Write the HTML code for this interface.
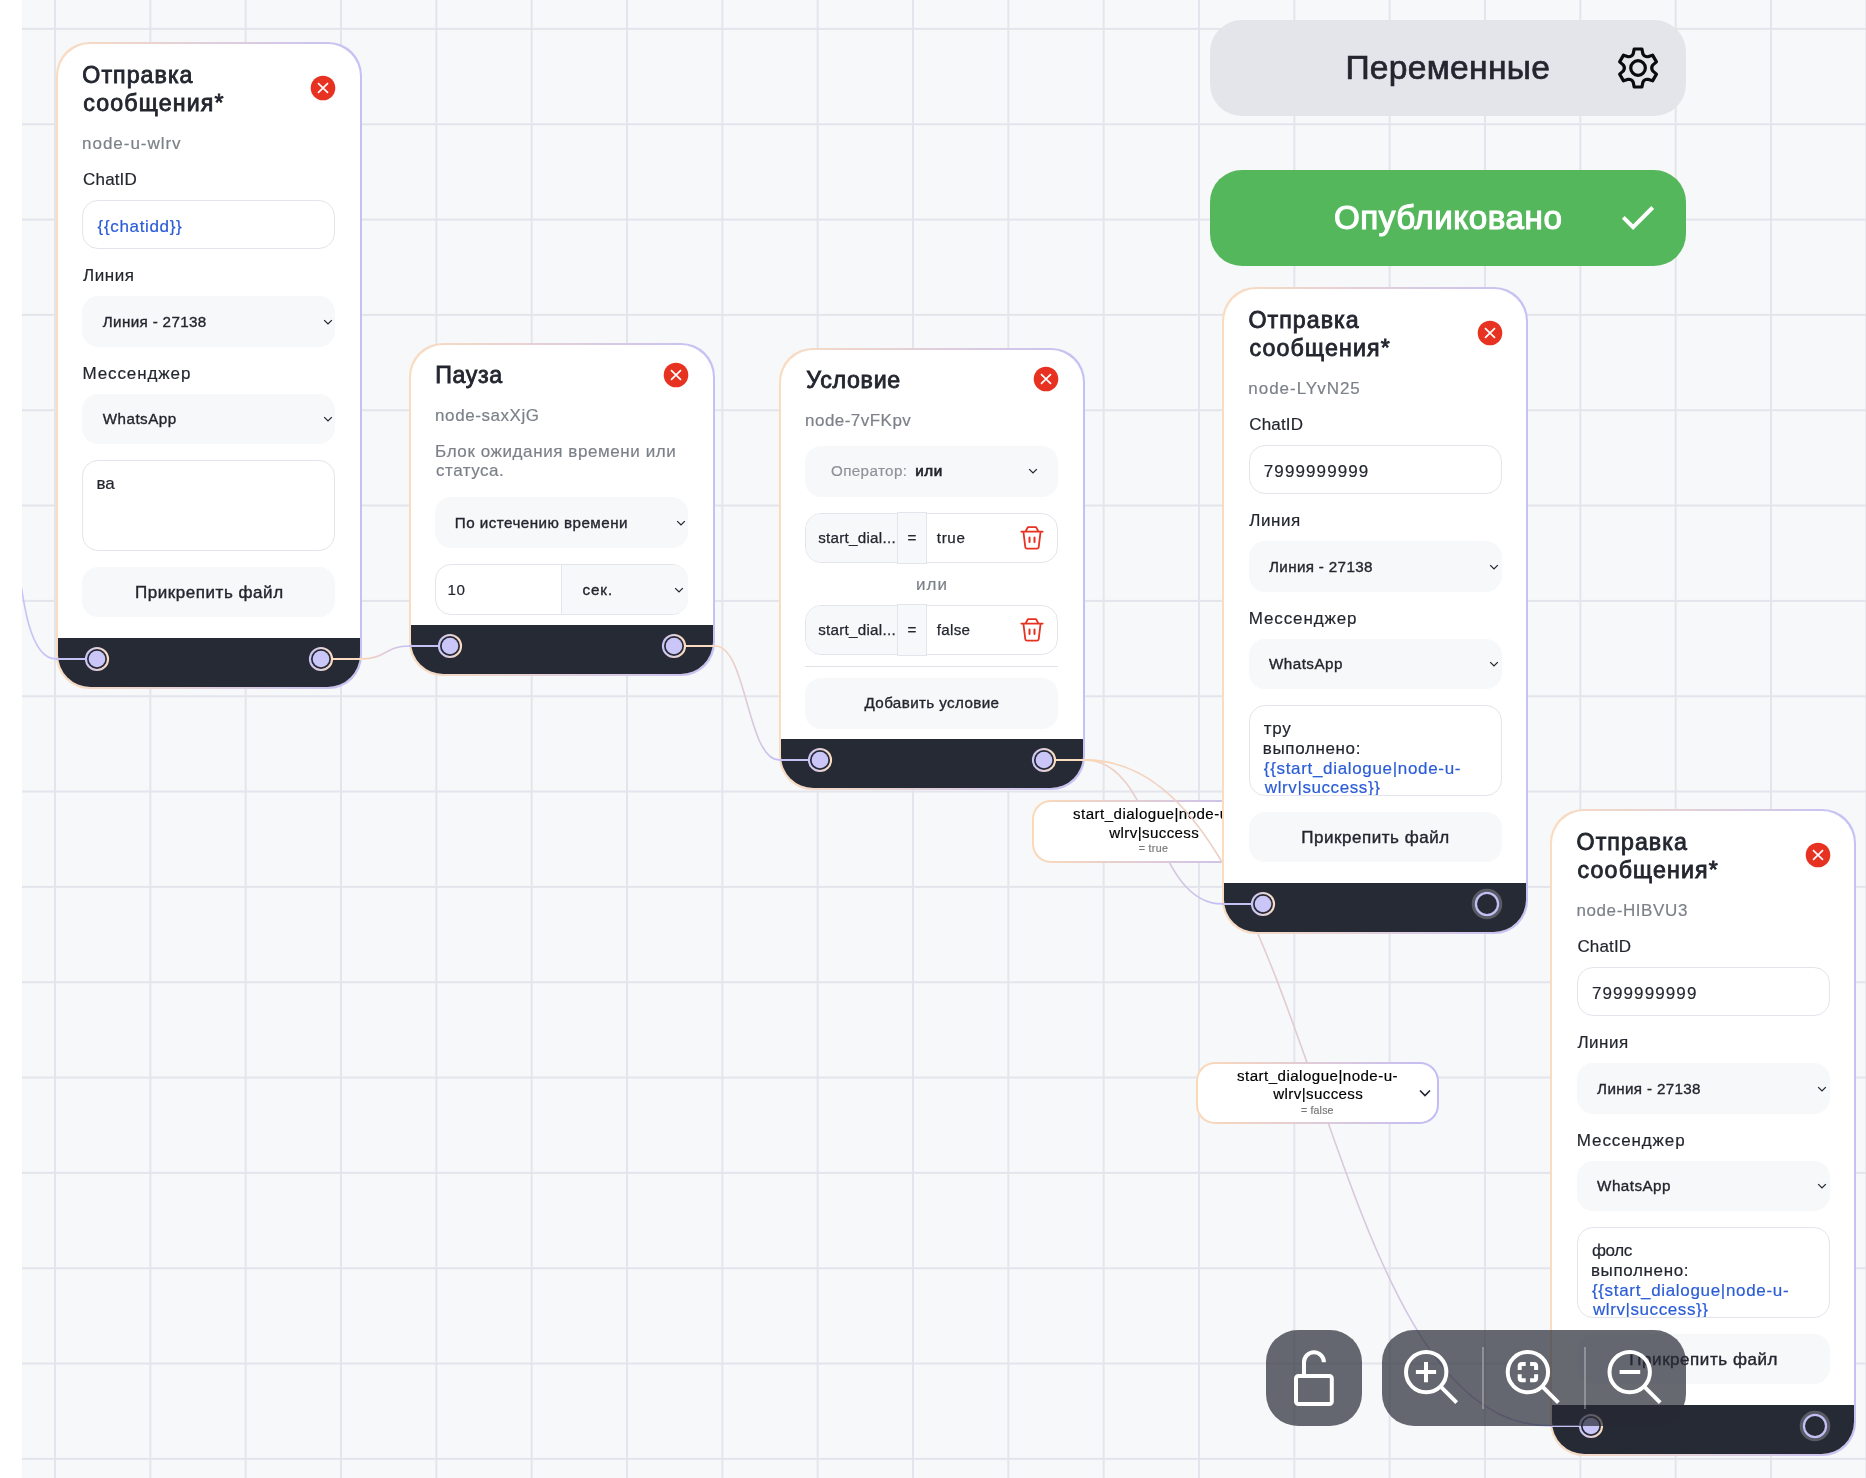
<!DOCTYPE html>
<html lang="ru">
<head>
<meta charset="utf-8">
<title>Flow</title>
<style>html,body{margin:0;padding:0;background:#fff}
body{width:1866px;height:1478px;overflow:hidden;position:relative;font-family:"Liberation Sans", sans-serif}
#root{position:absolute;left:0;top:0;width:1866px;height:1478px;will-change:transform}
.abs{position:absolute}
.t{position:absolute;white-space:pre;font-family:"Liberation Sans", sans-serif}
.card{border-radius:33.5px;background:linear-gradient(90deg,#fadcc0,#c6c1f5)}
</style>
</head>
<body>
<div id="root">
<div class="abs" style="left:22px;top:0;width:1844px;height:1478px;background:#f7f8fa">
</div>
<svg class="abs" style="left:0;top:0" width="1866" height="1478">
<rect x="54.00" y="0" width="2" height="1478" fill="#e4e5ec"/>
<rect x="149.33" y="0" width="2" height="1478" fill="#e4e5ec"/>
<rect x="244.67" y="0" width="2" height="1478" fill="#e4e5ec"/>
<rect x="340.00" y="0" width="2" height="1478" fill="#e4e5ec"/>
<rect x="435.33" y="0" width="2" height="1478" fill="#e4e5ec"/>
<rect x="530.66" y="0" width="2" height="1478" fill="#e4e5ec"/>
<rect x="626.00" y="0" width="2" height="1478" fill="#e4e5ec"/>
<rect x="721.33" y="0" width="2" height="1478" fill="#e4e5ec"/>
<rect x="816.66" y="0" width="2" height="1478" fill="#e4e5ec"/>
<rect x="912.00" y="0" width="2" height="1478" fill="#e4e5ec"/>
<rect x="1007.33" y="0" width="2" height="1478" fill="#e4e5ec"/>
<rect x="1102.66" y="0" width="2" height="1478" fill="#e4e5ec"/>
<rect x="1198.00" y="0" width="2" height="1478" fill="#e4e5ec"/>
<rect x="1293.33" y="0" width="2" height="1478" fill="#e4e5ec"/>
<rect x="1388.66" y="0" width="2" height="1478" fill="#e4e5ec"/>
<rect x="1483.99" y="0" width="2" height="1478" fill="#e4e5ec"/>
<rect x="1579.33" y="0" width="2" height="1478" fill="#e4e5ec"/>
<rect x="1674.66" y="0" width="2" height="1478" fill="#e4e5ec"/>
<rect x="1769.99" y="0" width="2" height="1478" fill="#e4e5ec"/>
<rect x="1865.33" y="0" width="2" height="1478" fill="#e4e5ec"/>
<rect x="22" y="27.90" width="1844" height="2" fill="#e4e5ec"/>
<rect x="22" y="123.23" width="1844" height="2" fill="#e4e5ec"/>
<rect x="22" y="218.57" width="1844" height="2" fill="#e4e5ec"/>
<rect x="22" y="313.90" width="1844" height="2" fill="#e4e5ec"/>
<rect x="22" y="409.23" width="1844" height="2" fill="#e4e5ec"/>
<rect x="22" y="504.56" width="1844" height="2" fill="#e4e5ec"/>
<rect x="22" y="599.90" width="1844" height="2" fill="#e4e5ec"/>
<rect x="22" y="695.23" width="1844" height="2" fill="#e4e5ec"/>
<rect x="22" y="790.56" width="1844" height="2" fill="#e4e5ec"/>
<rect x="22" y="885.90" width="1844" height="2" fill="#e4e5ec"/>
<rect x="22" y="981.23" width="1844" height="2" fill="#e4e5ec"/>
<rect x="22" y="1076.56" width="1844" height="2" fill="#e4e5ec"/>
<rect x="22" y="1171.90" width="1844" height="2" fill="#e4e5ec"/>
<rect x="22" y="1267.23" width="1844" height="2" fill="#e4e5ec"/>
<rect x="22" y="1362.56" width="1844" height="2" fill="#e4e5ec"/>
<rect x="22" y="1457.89" width="1844" height="2" fill="#e4e5ec"/>
</svg>
<svg class="abs" style="left:0;top:0" width="0" height="0">
<defs>
<linearGradient id="hgrad" x1="0" y1="0" x2="1" y2="0">
<stop offset="0" stop-color="#c9c3f7"/>
<stop offset="1" stop-color="#fbdcc0"/>
</linearGradient>
</defs>
</svg>
<svg class="abs" style="left:0;top:0;overflow:hidden" width="1866" height="1478">
<defs>
<clipPath id="cv">
<rect x="22" y="0" width="1844" height="1478"/>
</clipPath>
</defs>
<g clip-path="url(#cv)">
<path d="M-24.00 440.00 C28.00 440.00 4.00 658.90 56.00 658.90" fill="none" stroke="#c8c3f6" stroke-width="1.6"/>
<linearGradient id="eg2" gradientUnits="userSpaceOnUse" x1="362.0" y1="0" x2="409.0" y2="0">
<stop offset="0" stop-color="#f9d6b6"/>
<stop offset="1" stop-color="#c4bef6"/>
</linearGradient>
<path d="M362.00 658.90 C385.50 658.90 385.50 646.00 409.00 646.00" fill="none" stroke="url(#eg2)" stroke-width="1.6"/>
<linearGradient id="eg3" gradientUnits="userSpaceOnUse" x1="715.0" y1="0" x2="779.0" y2="0">
<stop offset="0" stop-color="#f9d6b6"/>
<stop offset="1" stop-color="#c4bef6"/>
</linearGradient>
<path d="M715.00 646.00 C747.00 646.00 747.00 759.90 779.00 759.90" fill="none" stroke="url(#eg3)" stroke-width="1.6"/>
<linearGradient id="eg4" gradientUnits="userSpaceOnUse" x1="1085.0" y1="0" x2="1222.2" y2="0">
<stop offset="0" stop-color="#f9d6b6"/>
<stop offset="1" stop-color="#c4bef6"/>
</linearGradient>
<path d="M1085.00 759.90 C1153.60 759.90 1153.60 903.90 1222.20 903.90" fill="none" stroke="url(#eg4)" stroke-width="1.6"/>
</g>
</svg>
<div class="abs" style="left:1032.30px;top:800.25px;width:242.60px;height:62.60px;border-radius:19px;background:linear-gradient(90deg,#fbd9b8,#c2bcf7)">
</div>
<div class="abs" style="left:1034.20px;top:802.15px;width:238.80px;height:58.80px;border-radius:17.1px;background:#fff">
</div>
<span class="t" style="left:1073.00px;top:805px;font-size:15.1px;line-height:17px;font-weight:400;color:#000;letter-spacing:0.469px;-webkit-text-stroke:0.18px #000;">start_dialogue|node-u-</span>
<span class="t" style="left:1109.30px;top:824px;font-size:15.1px;line-height:17px;font-weight:400;color:#000;letter-spacing:0.389px;-webkit-text-stroke:0.18px #000;">wlrv|success</span>
<span class="t" style="left:1138.70px;top:842px;font-size:10.6px;line-height:12px;font-weight:400;color:#777;letter-spacing:0.341px;-webkit-text-stroke:0.18px #777;">= true</span>
<svg class="abs" style="left:1251.30px;top:821.45px" width="20" height="20" viewBox="-10 -10 20 20">
<path d="M-5.00 -2.55 L0 2.55 L5.00 -2.55" fill="none" stroke="#23262f" stroke-width="1.6"/>
</svg>
<svg class="abs" style="left:0;top:0" width="1866" height="1478">
<linearGradient id="eg5" gradientUnits="userSpaceOnUse" x1="1085.0" y1="0" x2="1550.3" y2="0">
<stop offset="0" stop-color="#f9d6b6"/>
<stop offset="1" stop-color="#c4bef6"/>
</linearGradient>
<path d="M1085.00 759.90 C1317.65 759.90 1317.65 1425.90 1550.30 1425.90" fill="none" stroke="url(#eg5)" stroke-width="1.6"/>
</svg>
<div class="abs" style="left:1196.30px;top:1061.70px;width:242.60px;height:62.60px;border-radius:19px;background:linear-gradient(90deg,#fbd9b8,#c2bcf7)">
</div>
<div class="abs" style="left:1198.20px;top:1063.60px;width:238.80px;height:58.80px;border-radius:17.1px;background:#fff">
</div>
<span class="t" style="left:1237.00px;top:1067px;font-size:15.1px;line-height:17px;font-weight:400;color:#000;letter-spacing:0.469px;-webkit-text-stroke:0.18px #000;">start_dialogue|node-u-</span>
<span class="t" style="left:1273.30px;top:1085px;font-size:15.1px;line-height:17px;font-weight:400;color:#000;letter-spacing:0.389px;-webkit-text-stroke:0.18px #000;">wlrv|success</span>
<span class="t" style="left:1301.00px;top:1104px;font-size:10.6px;line-height:12px;font-weight:400;color:#777;letter-spacing:0.164px;-webkit-text-stroke:0.18px #777;">= false</span>
<svg class="abs" style="left:1415.30px;top:1082.90px" width="20" height="20" viewBox="-10 -10 20 20">
<path d="M-5.00 -2.55 L0 2.55 L5.00 -2.55" fill="none" stroke="#23262f" stroke-width="1.6"/>
</svg>
<div class="abs" style="left:1210.00px;top:20.20px;width:476.00px;height:95.60px;border-radius:32px;background:#e4e5ea;">
</div>
<span class="t" style="left:1345.40px;top:49px;font-size:33.6px;line-height:37px;font-weight:400;color:#23262f;letter-spacing:0.296px;-webkit-text-stroke:0.7px #23262f;">Переменные</span>
<div class="abs" style="left:1210.00px;top:170.20px;width:476.00px;height:95.60px;border-radius:32px;background:#55b75b;">
</div>
<span class="t" style="left:1333.90px;top:199px;font-size:33.2px;line-height:37px;font-weight:400;color:#fff;letter-spacing:0.549px;-webkit-text-stroke:1.15px #fff;">Опубликовано</span>
<svg class="abs" style="left:1600px;top:190px" width="80" height="60" viewBox="1600 190 80 60">
<path d="M1623.3 217.4L1633.1 227.2L1652.7 207.5" fill="none" stroke="#fff" stroke-width="4"/>
</svg>
<svg class="abs" style="left:1608.0px;top:37.9px" width="60" height="60" viewBox="1608.0 37.9 60 60">
<path d="M1642.90 53.81 L1641.92 48.89 L1634.18 48.89 L1633.20 53.81 Q1631.70 56.90 1628.27 56.65 L1623.52 55.05 L1619.65 61.74 L1623.42 65.06 Q1625.35 67.90 1623.42 70.74 L1619.65 74.06 L1623.52 80.75 L1628.27 79.15 Q1631.70 78.90 1633.20 81.99 L1634.18 86.91 L1641.92 86.91 L1642.90 81.99 Q1644.40 78.90 1647.83 79.15 L1652.58 80.75 L1656.45 74.06 L1652.68 70.74 Q1650.75 67.90 1652.68 65.06 L1656.45 61.74 L1652.58 55.05 L1647.83 56.65 Q1644.40 56.90 1642.90 53.81Z" fill="none" stroke="#0b0b0d" stroke-width="3.2" stroke-linejoin="round"/>
<circle cx="1638.05" cy="67.9" r="7.3" fill="none" stroke="#0b0b0d" stroke-width="3.2"/>
</svg>
<div class="abs card" style="left:56.00px;top:42.00px;width:306px;height:647.00px">
</div>
<div class="abs" style="left:58.00px;top:44.00px;width:302px;height:643.00px;background:#fff;border-radius:32.3px;overflow:hidden">
<div class="abs" style="left:0;top:594.00px;width:100%;height:100px;background:#262a35">
</div>
</div>
<span class="t" style="left:82.30px;top:62px;font-size:23.2px;line-height:26px;font-weight:400;color:#23262f;letter-spacing:1.046px;-webkit-text-stroke:0.85px #23262f;">Отправка</span>
<span class="t" style="left:83.30px;top:90px;font-size:23.2px;line-height:26px;font-weight:400;color:#23262f;letter-spacing:1.139px;-webkit-text-stroke:0.85px #23262f;">сообщения*</span>
<svg class="abs" style="left:308.40px;top:73.40px" width="30" height="30" viewBox="-15 -15 30 30">
<circle r="12.3" fill="#e73121"/>
<path d="M-5 -4.8L5 4.8M5 -4.8L-5 4.8" stroke="#fff" stroke-width="1.7" fill="none"/>
</svg>
<span class="t" style="left:82.10px;top:134px;font-size:17.0px;line-height:19px;font-weight:400;color:#7c8088;letter-spacing:0.969px;-webkit-text-stroke:0.18px #7c8088;">node-u-wlrv</span>
<span class="t" style="left:83.10px;top:170px;font-size:17.0px;line-height:19px;font-weight:400;color:#23262f;letter-spacing:0.154px;-webkit-text-stroke:0.18px #23262f;">ChatID</span>
<div class="abs" style="left:82.40px;top:199.80px;width:253.00px;height:49.50px;border-radius:16px;background:#fff;border:1px solid #e4e4ec;box-sizing:border-box;">
</div>
<span class="t" style="left:97.60px;top:217px;font-size:17.0px;line-height:19px;font-weight:400;color:#2a5cd6;letter-spacing:0.655px;-webkit-text-stroke:0.18px #2a5cd6;">{{chatidd}}</span>
<span class="t" style="left:83.10px;top:266px;font-size:17.0px;line-height:19px;font-weight:400;color:#23262f;letter-spacing:0.516px;-webkit-text-stroke:0.18px #23262f;">Линия</span>
<div class="abs" style="left:82.40px;top:296.20px;width:253.00px;height:50.70px;border-radius:16px;background:#f7f8fa;">
</div>
<span class="t" style="left:102.80px;top:313px;font-size:15.2px;line-height:17px;font-weight:400;color:#23262f;letter-spacing:0.348px;-webkit-text-stroke:0.35px #23262f;">Линия - 27138</span>
<svg class="abs" style="left:317.50px;top:311.80px" width="20" height="20" viewBox="-10 -10 20 20">
<path d="M-3.80 -1.90 L0 1.90 L3.80 -1.90" fill="none" stroke="#23262f" stroke-width="1.3"/>
</svg>
<span class="t" style="left:82.50px;top:364px;font-size:17.0px;line-height:19px;font-weight:400;color:#23262f;letter-spacing:0.889px;-webkit-text-stroke:0.18px #23262f;">Мессенджер</span>
<div class="abs" style="left:82.40px;top:393.60px;width:253.00px;height:50.20px;border-radius:16px;background:#f7f8fa;">
</div>
<span class="t" style="left:102.80px;top:410px;font-size:15.2px;line-height:17px;font-weight:400;color:#23262f;letter-spacing:0.469px;-webkit-text-stroke:0.35px #23262f;">WhatsApp</span>
<svg class="abs" style="left:317.50px;top:409.20px" width="20" height="20" viewBox="-10 -10 20 20">
<path d="M-3.80 -1.90 L0 1.90 L3.80 -1.90" fill="none" stroke="#23262f" stroke-width="1.3"/>
</svg>
<div class="abs" style="left:82.40px;top:460.10px;width:253.00px;height:90.70px;border-radius:16px;background:#fff;border:1px solid #e4e4ec;box-sizing:border-box;">
</div>
<div class="abs" style="left:83.60px;top:461px;width:250.60px;height:88.60px;border-radius:14px;overflow:hidden">
<span class="t" style="left:13.00px;top:13px;font-size:17.0px;line-height:19px;font-weight:400;color:#23262f;letter-spacing:-0.140px;-webkit-text-stroke:0.18px #23262f;">ва</span>
</div>
<div class="abs" style="left:82.40px;top:567.20px;width:253.00px;height:49.90px;border-radius:16px;background:#f7f8fa;">
</div>
<span class="t" style="left:135.05px;top:583px;font-size:17.0px;line-height:19px;font-weight:400;color:#23262f;letter-spacing:0.541px;-webkit-text-stroke:0.4px #23262f;">Прикрепить файл</span>
<div class="abs" style="left:56.00px;top:657.80px;width:30.00px;height:2.2px;background:#c6c1f5">
</div>
<svg class="abs" style="left:79.90px;top:641.90px" width="34" height="34" viewBox="-17 -17 34 34">
<circle r="11.05" fill="#262a35" stroke="url(#hgrad)" stroke-width="2.1"/>
<circle r="8.3" fill="#cbc6f8"/>
</svg>
<div class="abs" style="left:332.00px;top:657.80px;width:30.00px;height:2.2px;background:#fadcc0">
</div>
<svg class="abs" style="left:304.10px;top:641.90px" width="34" height="34" viewBox="-17 -17 34 34">
<circle r="11.05" fill="#262a35" stroke="url(#hgrad)" stroke-width="2.1"/>
<circle r="8.3" fill="#cbc6f8"/>
</svg>
<div class="abs card" style="left:409.00px;top:343.00px;width:306px;height:333.20px">
</div>
<div class="abs" style="left:411.00px;top:345.00px;width:302px;height:329.20px;background:#fff;border-radius:32.3px;overflow:hidden">
<div class="abs" style="left:0;top:280.20px;width:100%;height:100px;background:#262a35">
</div>
</div>
<span class="t" style="left:435.30px;top:362px;font-size:23.2px;line-height:26px;font-weight:400;color:#23262f;letter-spacing:0.618px;-webkit-text-stroke:0.85px #23262f;">Пауза</span>
<svg class="abs" style="left:661.05px;top:359.50px" width="30" height="30" viewBox="-15 -15 30 30">
<circle r="12.3" fill="#e73121"/>
<path d="M-5 -4.8L5 4.8M5 -4.8L-5 4.8" stroke="#fff" stroke-width="1.7" fill="none"/>
</svg>
<span class="t" style="left:435.10px;top:406px;font-size:17.0px;line-height:19px;font-weight:400;color:#7c8088;letter-spacing:0.565px;-webkit-text-stroke:0.18px #7c8088;">node-saxXjG</span>
<span class="t" style="left:435.10px;top:442px;font-size:17.0px;line-height:19px;font-weight:400;color:#7c8088;letter-spacing:0.587px;-webkit-text-stroke:0.18px #7c8088;">Блок ожидания времени или</span>
<span class="t" style="left:436.10px;top:461px;font-size:17.0px;line-height:19px;font-weight:400;color:#7c8088;letter-spacing:0.498px;-webkit-text-stroke:0.18px #7c8088;">статуса.</span>
<div class="abs" style="left:435.40px;top:497.10px;width:253.00px;height:50.70px;border-radius:16px;background:#f7f8fa;">
</div>
<span class="t" style="left:454.80px;top:514px;font-size:15.2px;line-height:17px;font-weight:400;color:#23262f;letter-spacing:0.460px;-webkit-text-stroke:0.35px #23262f;">По истечению времени</span>
<svg class="abs" style="left:670.50px;top:512.80px" width="20" height="20" viewBox="-10 -10 20 20">
<path d="M-3.80 -1.90 L0 1.90 L3.80 -1.90" fill="none" stroke="#23262f" stroke-width="1.3"/>
</svg>
<div class="abs" style="left:435.40px;top:564.20px;width:253.00px;height:50.50px;border-radius:16px;background:#fff;border:1px solid #e4e4ec;box-sizing:border-box;overflow:hidden">
</div>
<div class="abs" style="left:560.80px;top:565.20px;width:126.60px;height:48.5px;background:#f7f8fa;border-left:1px solid #e4e4ec;border-radius:0 15px 15px 0">
</div>
<span class="t" style="left:447.60px;top:581px;font-size:15.2px;line-height:17px;font-weight:400;color:#23262f;letter-spacing:0.553px;-webkit-text-stroke:0.18px #23262f;">10</span>
<span class="t" style="left:582.40px;top:581px;font-size:15.2px;line-height:17px;font-weight:400;color:#23262f;letter-spacing:0.938px;-webkit-text-stroke:0.35px #23262f;">сек.</span>
<svg class="abs" style="left:669.20px;top:579.60px" width="20" height="20" viewBox="-10 -10 20 20">
<path d="M-3.80 -1.90 L0 1.90 L3.80 -1.90" fill="none" stroke="#23262f" stroke-width="1.3"/>
</svg>
<div class="abs" style="left:409.00px;top:644.90px;width:30.00px;height:2.2px;background:#c6c1f5">
</div>
<svg class="abs" style="left:432.90px;top:629.00px" width="34" height="34" viewBox="-17 -17 34 34">
<circle r="11.05" fill="#262a35" stroke="url(#hgrad)" stroke-width="2.1"/>
<circle r="8.3" fill="#cbc6f8"/>
</svg>
<div class="abs" style="left:685.00px;top:644.90px;width:30.00px;height:2.2px;background:#fadcc0">
</div>
<svg class="abs" style="left:657.10px;top:629.00px" width="34" height="34" viewBox="-17 -17 34 34">
<circle r="11.05" fill="#262a35" stroke="url(#hgrad)" stroke-width="2.1"/>
<circle r="8.3" fill="#cbc6f8"/>
</svg>
<div class="abs card" style="left:779.00px;top:347.60px;width:306px;height:442.30px">
</div>
<div class="abs" style="left:781.00px;top:349.60px;width:302px;height:438.30px;background:#fff;border-radius:32.3px;overflow:hidden">
<div class="abs" style="left:0;top:389.20px;width:100%;height:100px;background:#262a35">
</div>
</div>
<span class="t" style="left:806.30px;top:367px;font-size:23.2px;line-height:26px;font-weight:400;color:#23262f;letter-spacing:0.712px;-webkit-text-stroke:0.85px #23262f;">Условие</span>
<svg class="abs" style="left:1031.05px;top:364.20px" width="30" height="30" viewBox="-15 -15 30 30">
<circle r="12.3" fill="#e73121"/>
<path d="M-5 -4.8L5 4.8M5 -4.8L-5 4.8" stroke="#fff" stroke-width="1.7" fill="none"/>
</svg>
<span class="t" style="left:805.10px;top:411px;font-size:17.0px;line-height:19px;font-weight:400;color:#7c8088;letter-spacing:0.459px;-webkit-text-stroke:0.18px #7c8088;">node-7vFKpv</span>
<div class="abs" style="left:805.40px;top:445.80px;width:253.00px;height:50.80px;border-radius:16px;background:#f7f8fa;">
</div>
<span class="t" style="left:831.00px;top:462px;font-size:15.2px;line-height:17px;font-weight:400;color:#8f9299;letter-spacing:0.372px;-webkit-text-stroke:0.18px #8f9299;">Оператор:</span>
<span class="t" style="left:915.30px;top:462px;font-size:15.2px;line-height:17px;font-weight:400;color:#23262f;letter-spacing:0.577px;-webkit-text-stroke:0.7px #23262f;">или</span>
<svg class="abs" style="left:1023.30px;top:461.40px" width="20" height="20" viewBox="-10 -10 20 20">
<path d="M-3.80 -1.90 L0 1.90 L3.80 -1.90" fill="none" stroke="#23262f" stroke-width="1.3"/>
</svg>
<div class="abs" style="left:805.40px;top:513.00px;width:253.00px;height:50.00px;border-radius:16px;background:#fff;border:1px solid #e4e4ec;box-sizing:border-box;">
</div>
<div class="abs" style="left:806.40px;top:514.00px;width:92.00px;height:48px;background:#f7f8fa;border-radius:15px 0 0 15px">
</div>
<div class="abs" style="left:897.00px;top:512.20px;width:29.90px;height:51.6px;background:#f7f8fa;border:1px solid #e4e4ec;box-sizing:border-box">
</div>
<span class="t" style="left:818.20px;top:529px;font-size:15.2px;line-height:17px;font-weight:400;color:#23262f;letter-spacing:0.261px;-webkit-text-stroke:0.25px #23262f;">start_dial...</span>
<span class="t" style="left:907.40px;top:529px;font-size:15.2px;line-height:17px;font-weight:400;color:#23262f;-webkit-text-stroke:0.18px #23262f;">=</span>
<span class="t" style="left:936.80px;top:529px;font-size:15.2px;line-height:17px;font-weight:400;color:#23262f;letter-spacing:0.625px;-webkit-text-stroke:0.25px #23262f;">true</span>
<svg class="abs" style="left:1017.30px;top:522.60px" width="30" height="30" viewBox="-15 -15 30 30">
<g fill="none" stroke="#e73121" stroke-width="1.8" stroke-linecap="round" stroke-linejoin="round">
<path d="M-10.7 -6.4H10.7M-6.4 -6.6L-4.1 -10.8H4.1L6.4 -6.6M-8.5 -5.6L-6.7 9.2Q-6.4 10.6 -4.9 10.6H4.9Q6.4 10.6 6.7 9.2L8.5 -5.6"/>
<path d="M-2.5 -0.5V4.1M2.5 -0.5V4.1" stroke-width="2"/>
</g>
</svg>
<span class="t" style="left:916.10px;top:575px;font-size:17.0px;line-height:19px;font-weight:400;color:#7c8088;letter-spacing:0.942px;-webkit-text-stroke:0.18px #7c8088;">или</span>
<div class="abs" style="left:805.40px;top:605.20px;width:253.00px;height:50.00px;border-radius:16px;background:#fff;border:1px solid #e4e4ec;box-sizing:border-box;">
</div>
<div class="abs" style="left:806.40px;top:606.20px;width:92.00px;height:48px;background:#f7f8fa;border-radius:15px 0 0 15px">
</div>
<div class="abs" style="left:897.00px;top:604.40px;width:29.90px;height:51.6px;background:#f7f8fa;border:1px solid #e4e4ec;box-sizing:border-box">
</div>
<span class="t" style="left:818.20px;top:621px;font-size:15.2px;line-height:17px;font-weight:400;color:#23262f;letter-spacing:0.261px;-webkit-text-stroke:0.25px #23262f;">start_dial...</span>
<span class="t" style="left:907.40px;top:621px;font-size:15.2px;line-height:17px;font-weight:400;color:#23262f;-webkit-text-stroke:0.18px #23262f;">=</span>
<span class="t" style="left:936.80px;top:621px;font-size:15.2px;line-height:17px;font-weight:400;color:#23262f;letter-spacing:0.291px;-webkit-text-stroke:0.25px #23262f;">false</span>
<svg class="abs" style="left:1017.30px;top:614.80px" width="30" height="30" viewBox="-15 -15 30 30">
<g fill="none" stroke="#e73121" stroke-width="1.8" stroke-linecap="round" stroke-linejoin="round">
<path d="M-10.7 -6.4H10.7M-6.4 -6.6L-4.1 -10.8H4.1L6.4 -6.6M-8.5 -5.6L-6.7 9.2Q-6.4 10.6 -4.9 10.6H4.9Q6.4 10.6 6.7 9.2L8.5 -5.6"/>
<path d="M-2.5 -0.5V4.1M2.5 -0.5V4.1" stroke-width="2"/>
</g>
</svg>
<div class="abs" style="left:805.40px;top:665.90px;width:253.00px;height:1.2px;background:#e1e2e8">
</div>
<div class="abs" style="left:805.40px;top:677.80px;width:253.00px;height:50.90px;border-radius:16px;background:#f7f8fa;">
</div>
<span class="t" style="left:864.50px;top:694px;font-size:15.2px;line-height:17px;font-weight:400;color:#23262f;letter-spacing:0.374px;-webkit-text-stroke:0.33px #23262f;">Добавить условие</span>
<div class="abs" style="left:779.00px;top:758.80px;width:30.00px;height:2.2px;background:#c6c1f5">
</div>
<svg class="abs" style="left:802.90px;top:742.90px" width="34" height="34" viewBox="-17 -17 34 34">
<circle r="11.05" fill="#262a35" stroke="url(#hgrad)" stroke-width="2.1"/>
<circle r="8.3" fill="#cbc6f8"/>
</svg>
<div class="abs" style="left:1055.00px;top:758.80px;width:30.00px;height:2.2px;background:#fadcc0">
</div>
<svg class="abs" style="left:1027.10px;top:742.90px" width="34" height="34" viewBox="-17 -17 34 34">
<circle r="11.05" fill="#262a35" stroke="url(#hgrad)" stroke-width="2.1"/>
<circle r="8.3" fill="#cbc6f8"/>
</svg>
<div class="abs card" style="left:1222.20px;top:287.00px;width:306px;height:647.00px">
</div>
<div class="abs" style="left:1224.20px;top:289.00px;width:302px;height:643.00px;background:#fff;border-radius:32.3px;overflow:hidden">
<div class="abs" style="left:0;top:594.00px;width:100%;height:100px;background:#262a35">
</div>
</div>
<span class="t" style="left:1248.50px;top:307px;font-size:23.2px;line-height:26px;font-weight:400;color:#23262f;letter-spacing:1.046px;-webkit-text-stroke:0.85px #23262f;">Отправка</span>
<span class="t" style="left:1249.50px;top:335px;font-size:23.2px;line-height:26px;font-weight:400;color:#23262f;letter-spacing:1.139px;-webkit-text-stroke:0.85px #23262f;">сообщения*</span>
<svg class="abs" style="left:1474.60px;top:318.40px" width="30" height="30" viewBox="-15 -15 30 30">
<circle r="12.3" fill="#e73121"/>
<path d="M-5 -4.8L5 4.8M5 -4.8L-5 4.8" stroke="#fff" stroke-width="1.7" fill="none"/>
</svg>
<span class="t" style="left:1248.30px;top:379px;font-size:17.0px;line-height:19px;font-weight:400;color:#7c8088;letter-spacing:0.970px;-webkit-text-stroke:0.18px #7c8088;">node-LYvN25</span>
<span class="t" style="left:1249.30px;top:415px;font-size:17.0px;line-height:19px;font-weight:400;color:#23262f;letter-spacing:0.154px;-webkit-text-stroke:0.18px #23262f;">ChatID</span>
<div class="abs" style="left:1248.60px;top:444.80px;width:253.00px;height:49.50px;border-radius:16px;background:#fff;border:1px solid #e4e4ec;box-sizing:border-box;">
</div>
<span class="t" style="left:1263.80px;top:462px;font-size:17.0px;line-height:19px;font-weight:400;color:#23262f;letter-spacing:1.101px;-webkit-text-stroke:0.18px #23262f;">7999999999</span>
<span class="t" style="left:1249.30px;top:511px;font-size:17.0px;line-height:19px;font-weight:400;color:#23262f;letter-spacing:0.516px;-webkit-text-stroke:0.18px #23262f;">Линия</span>
<div class="abs" style="left:1248.60px;top:541.20px;width:253.00px;height:50.70px;border-radius:16px;background:#f7f8fa;">
</div>
<span class="t" style="left:1269.00px;top:558px;font-size:15.2px;line-height:17px;font-weight:400;color:#23262f;letter-spacing:0.348px;-webkit-text-stroke:0.35px #23262f;">Линия - 27138</span>
<svg class="abs" style="left:1483.70px;top:556.80px" width="20" height="20" viewBox="-10 -10 20 20">
<path d="M-3.80 -1.90 L0 1.90 L3.80 -1.90" fill="none" stroke="#23262f" stroke-width="1.3"/>
</svg>
<span class="t" style="left:1248.70px;top:609px;font-size:17.0px;line-height:19px;font-weight:400;color:#23262f;letter-spacing:0.889px;-webkit-text-stroke:0.18px #23262f;">Мессенджер</span>
<div class="abs" style="left:1248.60px;top:638.60px;width:253.00px;height:50.20px;border-radius:16px;background:#f7f8fa;">
</div>
<span class="t" style="left:1269.00px;top:655px;font-size:15.2px;line-height:17px;font-weight:400;color:#23262f;letter-spacing:0.469px;-webkit-text-stroke:0.35px #23262f;">WhatsApp</span>
<svg class="abs" style="left:1483.70px;top:654.20px" width="20" height="20" viewBox="-10 -10 20 20">
<path d="M-3.80 -1.90 L0 1.90 L3.80 -1.90" fill="none" stroke="#23262f" stroke-width="1.3"/>
</svg>
<div class="abs" style="left:1248.60px;top:705.10px;width:253.00px;height:90.70px;border-radius:16px;background:#fff;border:1px solid #e4e4ec;box-sizing:border-box;">
</div>
<div class="abs" style="left:1249.80px;top:706px;width:250.60px;height:88.60px;border-radius:14px;overflow:hidden">
<span class="t" style="left:14.00px;top:13px;font-size:17.0px;line-height:19px;font-weight:400;color:#23262f;letter-spacing:0.725px;-webkit-text-stroke:0.18px #23262f;">тру</span>
<span class="t" style="left:13.00px;top:33px;font-size:17.0px;line-height:19px;font-weight:400;color:#23262f;letter-spacing:0.640px;-webkit-text-stroke:0.18px #23262f;">выполнено:</span>
<span class="t" style="left:14.00px;top:53px;font-size:17.0px;line-height:19px;font-weight:400;color:#2a5cd6;letter-spacing:0.674px;-webkit-text-stroke:0.18px #2a5cd6;">{{start_dialogue|node-u-</span>
<span class="t" style="left:15.00px;top:72px;font-size:17.0px;line-height:19px;font-weight:400;color:#2a5cd6;letter-spacing:0.591px;-webkit-text-stroke:0.18px #2a5cd6;">wlrv|success}}</span>
</div>
<div class="abs" style="left:1248.60px;top:812.20px;width:253.00px;height:49.90px;border-radius:16px;background:#f7f8fa;">
</div>
<span class="t" style="left:1301.25px;top:828px;font-size:17.0px;line-height:19px;font-weight:400;color:#23262f;letter-spacing:0.541px;-webkit-text-stroke:0.4px #23262f;">Прикрепить файл</span>
<div class="abs" style="left:1222.20px;top:902.80px;width:30.00px;height:2.2px;background:#c6c1f5">
</div>
<svg class="abs" style="left:1246.10px;top:886.90px" width="34" height="34" viewBox="-17 -17 34 34">
<circle r="11.05" fill="#262a35" stroke="url(#hgrad)" stroke-width="2.1"/>
<circle r="8.3" fill="#cbc6f8"/>
</svg>
<svg class="abs" style="left:1470.30px;top:886.90px" width="34" height="34" viewBox="-17 -17 34 34">
<circle r="13.75" fill="none" stroke="#585a64" stroke-width="3.1"/>
<circle r="11.1" fill="#262a35" stroke="#c4bff3" stroke-width="2.3"/>
</svg>
<div class="abs card" style="left:1550.30px;top:809.00px;width:306px;height:647.00px">
</div>
<div class="abs" style="left:1552.30px;top:811.00px;width:302px;height:643.00px;background:#fff;border-radius:32.3px;overflow:hidden">
<div class="abs" style="left:0;top:594.00px;width:100%;height:100px;background:#262a35">
</div>
</div>
<span class="t" style="left:1576.60px;top:829px;font-size:23.2px;line-height:26px;font-weight:400;color:#23262f;letter-spacing:1.046px;-webkit-text-stroke:0.85px #23262f;">Отправка</span>
<span class="t" style="left:1577.60px;top:857px;font-size:23.2px;line-height:26px;font-weight:400;color:#23262f;letter-spacing:1.139px;-webkit-text-stroke:0.85px #23262f;">сообщения*</span>
<svg class="abs" style="left:1802.70px;top:840.40px" width="30" height="30" viewBox="-15 -15 30 30">
<circle r="12.3" fill="#e73121"/>
<path d="M-5 -4.8L5 4.8M5 -4.8L-5 4.8" stroke="#fff" stroke-width="1.7" fill="none"/>
</svg>
<span class="t" style="left:1576.40px;top:901px;font-size:17.0px;line-height:19px;font-weight:400;color:#7c8088;letter-spacing:0.607px;-webkit-text-stroke:0.18px #7c8088;">node-HIBVU3</span>
<span class="t" style="left:1577.40px;top:937px;font-size:17.0px;line-height:19px;font-weight:400;color:#23262f;letter-spacing:0.154px;-webkit-text-stroke:0.18px #23262f;">ChatID</span>
<div class="abs" style="left:1576.70px;top:966.80px;width:253.00px;height:49.50px;border-radius:16px;background:#fff;border:1px solid #e4e4ec;box-sizing:border-box;">
</div>
<span class="t" style="left:1591.90px;top:984px;font-size:17.0px;line-height:19px;font-weight:400;color:#23262f;letter-spacing:1.101px;-webkit-text-stroke:0.18px #23262f;">7999999999</span>
<span class="t" style="left:1577.40px;top:1033px;font-size:17.0px;line-height:19px;font-weight:400;color:#23262f;letter-spacing:0.516px;-webkit-text-stroke:0.18px #23262f;">Линия</span>
<div class="abs" style="left:1576.70px;top:1063.20px;width:253.00px;height:50.70px;border-radius:16px;background:#f7f8fa;">
</div>
<span class="t" style="left:1597.10px;top:1080px;font-size:15.2px;line-height:17px;font-weight:400;color:#23262f;letter-spacing:0.348px;-webkit-text-stroke:0.35px #23262f;">Линия - 27138</span>
<svg class="abs" style="left:1811.80px;top:1078.80px" width="20" height="20" viewBox="-10 -10 20 20">
<path d="M-3.80 -1.90 L0 1.90 L3.80 -1.90" fill="none" stroke="#23262f" stroke-width="1.3"/>
</svg>
<span class="t" style="left:1576.80px;top:1131px;font-size:17.0px;line-height:19px;font-weight:400;color:#23262f;letter-spacing:0.889px;-webkit-text-stroke:0.18px #23262f;">Мессенджер</span>
<div class="abs" style="left:1576.70px;top:1160.60px;width:253.00px;height:50.20px;border-radius:16px;background:#f7f8fa;">
</div>
<span class="t" style="left:1597.10px;top:1177px;font-size:15.2px;line-height:17px;font-weight:400;color:#23262f;letter-spacing:0.469px;-webkit-text-stroke:0.35px #23262f;">WhatsApp</span>
<svg class="abs" style="left:1811.80px;top:1176.20px" width="20" height="20" viewBox="-10 -10 20 20">
<path d="M-3.80 -1.90 L0 1.90 L3.80 -1.90" fill="none" stroke="#23262f" stroke-width="1.3"/>
</svg>
<div class="abs" style="left:1576.70px;top:1227.10px;width:253.00px;height:90.70px;border-radius:16px;background:#fff;border:1px solid #e4e4ec;box-sizing:border-box;">
</div>
<div class="abs" style="left:1577.90px;top:1228px;width:250.60px;height:88.60px;border-radius:14px;overflow:hidden">
<span class="t" style="left:14.00px;top:13px;font-size:17.0px;line-height:19px;font-weight:400;color:#23262f;letter-spacing:-0.362px;-webkit-text-stroke:0.18px #23262f;">фолс</span>
<span class="t" style="left:13.00px;top:33px;font-size:17.0px;line-height:19px;font-weight:400;color:#23262f;letter-spacing:0.640px;-webkit-text-stroke:0.18px #23262f;">выполнено:</span>
<span class="t" style="left:14.00px;top:53px;font-size:17.0px;line-height:19px;font-weight:400;color:#2a5cd6;letter-spacing:0.674px;-webkit-text-stroke:0.18px #2a5cd6;">{{start_dialogue|node-u-</span>
<span class="t" style="left:15.00px;top:72px;font-size:17.0px;line-height:19px;font-weight:400;color:#2a5cd6;letter-spacing:0.591px;-webkit-text-stroke:0.18px #2a5cd6;">wlrv|success}}</span>
</div>
<div class="abs" style="left:1576.70px;top:1334.20px;width:253.00px;height:49.90px;border-radius:16px;background:#f7f8fa;">
</div>
<span class="t" style="left:1629.35px;top:1350px;font-size:17.0px;line-height:19px;font-weight:400;color:#23262f;letter-spacing:0.541px;-webkit-text-stroke:0.4px #23262f;">Прикрепить файл</span>
<div class="abs" style="left:1550.30px;top:1424.80px;width:30.00px;height:2.2px;background:#c6c1f5">
</div>
<svg class="abs" style="left:1574.20px;top:1408.90px" width="34" height="34" viewBox="-17 -17 34 34">
<circle r="11.05" fill="#262a35" stroke="url(#hgrad)" stroke-width="2.1"/>
<circle r="8.3" fill="#cbc6f8"/>
</svg>
<svg class="abs" style="left:1798.40px;top:1408.90px" width="34" height="34" viewBox="-17 -17 34 34">
<circle r="13.75" fill="none" stroke="#585a64" stroke-width="3.1"/>
<circle r="11.1" fill="#262a35" stroke="#c4bff3" stroke-width="2.3"/>
</svg>
<div class="abs" style="left:1266.00px;top:1330.00px;width:95.70px;height:95.70px;border-radius:32px;background:rgba(38,42,53,0.70);">
</div>
<div class="abs" style="left:1382.20px;top:1330.00px;width:303.90px;height:95.70px;border-radius:32px;background:rgba(38,42,53,0.70);">
</div>
<div class="abs" style="left:1482.2px;top:1347px;width:2px;height:61.5px;background:rgba(255,255,255,0.28)">
</div>
<div class="abs" style="left:1584px;top:1347px;width:2px;height:61.5px;background:rgba(255,255,255,0.28)">
</div>
<svg class="abs" style="left:1260px;top:1325px" width="440" height="110" viewBox="1260 1325 440 110">
<g fill="none" stroke="#fff" stroke-width="4">
<rect x="1296" y="1376" width="35.8" height="28" rx="2.5"/>
<path d="M1304 1376V1362.3a9.95 9.95 0 0 1 19.9 0"/>
<circle cx="1426.2" cy="1372.1" r="20.2"/>
<path d="M1440.50 1386.4L1456.70 1402.6"/>
<circle cx="1527.9" cy="1372.1" r="20.2"/>
<path d="M1542.20 1386.4L1558.40 1402.6"/>
<circle cx="1629.7" cy="1372.1" r="20.2"/>
<path d="M1644.00 1386.4L1660.20 1402.6"/>
<path d="M1415.9 1372.1H1436.1M1426 1362V1382.2"/>
<path d="M1619.6 1372H1640.2"/>
<path d="M1519.70 1369.90V1365.90Q1519.70 1363.90 1521.70 1363.90H1525.70"/>
<path d="M1530.10 1363.90H1534.10Q1536.10 1363.90 1536.10 1365.90V1369.90"/>
<path d="M1536.10 1374.30V1378.30Q1536.10 1380.30 1534.10 1380.30H1530.10"/>
<path d="M1525.70 1380.30H1521.70Q1519.70 1380.30 1519.70 1378.30V1374.30"/>
</g>
</svg>
</div>
</body>
</html>
